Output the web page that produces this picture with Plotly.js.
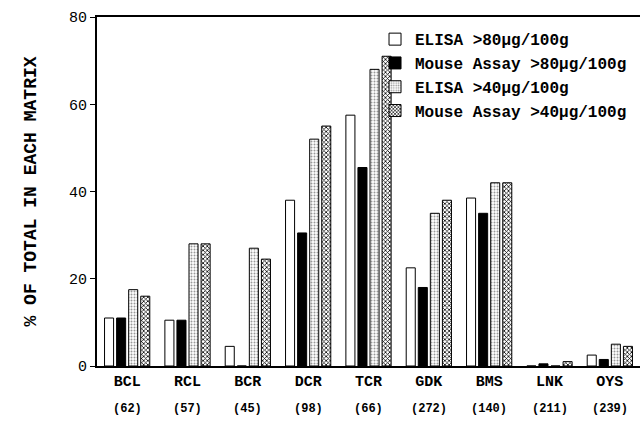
<!DOCTYPE html>
<html><head><meta charset="utf-8">
<script src="https://cdn.plot.ly/plotly-3.0.1.min.js"></script>
<style>body{margin:0;background:#fff}#c{width:642px;height:443px}</style>
</head><body><div id="c"></div>
<script>
var categories = ["BCL","RCL","BCR","DCR","TCR","GDK","BMS","LNK","OYS"];
var counts = ["(62)","(57)","(45)","(98)","(66)","(272)","(140)","(211)","(239)"];
var elisa80 = [11, 10.5, 4.5, 38, 57.5, 22.5, 38.5, 0, 2.5];
var mouse80 = [11, 10.5, 0, 30.5, 45.5, 18, 35, 0.5, 1.5];
var elisa40 = [17.5, 28, 27, 52, 68, 35, 42, 0, 5];
var mouse40 = [16, 28, 24.5, 55, 71, 38, 42, 1, 4.5];
var seriesNames = ["ELISA >80µg/100g","Mouse Assay >80µg/100g","ELISA >40µg/100g","Mouse Assay >40µg/100g"];

var font = "Liberation Mono, DejaVu Sans Mono, monospace";
var line = {color:"#000", width:1};
var traces = [
  {type:"bar", x:categories, y:elisa80, name:seriesNames[0], legendgroup:"a",
   marker:{color:"#fff", line:line}},
  {type:"bar", x:categories, y:mouse80, name:seriesNames[1], legendgroup:"b",
   marker:{color:"#000", line:line}},
  {type:"bar", x:categories, y:elisa40, name:seriesNames[2], legendgroup:"c",
   marker:{color:"#fff", line:line, pattern:{shape:".", fgcolor:"#999", bgcolor:"#fff", size:3, solidity:0.35}}},
  {type:"bar", x:categories, y:mouse40, name:seriesNames[3], legendgroup:"d",
   marker:{color:"#fff", line:line, pattern:{shape:"x", fgcolor:"#000", bgcolor:"#fff", size:3, solidity:0.45}}}
];
var annotations = categories.map(function(c,i){
  return {x:c, xref:"x", y:-0.123, yref:"paper", text:counts[i], showarrow:false,
    yanchor:"middle", font:{family:font, size:12, color:"#000", weight:"bold"}};
});
var layout = {
  width:642, height:443,
  margin:{l:97, r:2, t:17, b:77},
  paper_bgcolor:"#fff", plot_bgcolor:"#fff",
  barmode:"group", bargap:0.2, bargroupgap:0.25,
  showlegend:true,
  legend:{x:0.512, y:0.985, xanchor:"left", yanchor:"top", bgcolor:"rgba(0,0,0,0)",
    font:{family:font, size:16, color:"#000", weight:"bold"}, tracegroupgap:0, itemwidth:30},
  xaxis:{range:[-0.5,8.5], showline:true, mirror:true, linecolor:"#000", linewidth:1.5,
    ticks:"", showgrid:false, zeroline:false,
    tickfont:{family:font, size:15, color:"#000", weight:"bold"}},
  yaxis:{range:[0,80], dtick:20, showline:true, linecolor:"#000", linewidth:2,
    ticks:"outside", ticklen:5, tickcolor:"#000", showgrid:false, zeroline:false,
    tickfont:{family:font, size:15, color:"#000"},
    title:{text:"% OF TOTAL IN EACH MATRIX", standoff:28, font:{family:font, size:18, color:"#000", weight:"bold"}}},
  annotations:annotations
};
Plotly.newPlot("c", traces, layout, {displayModeBar:false});
</script></body></html>
